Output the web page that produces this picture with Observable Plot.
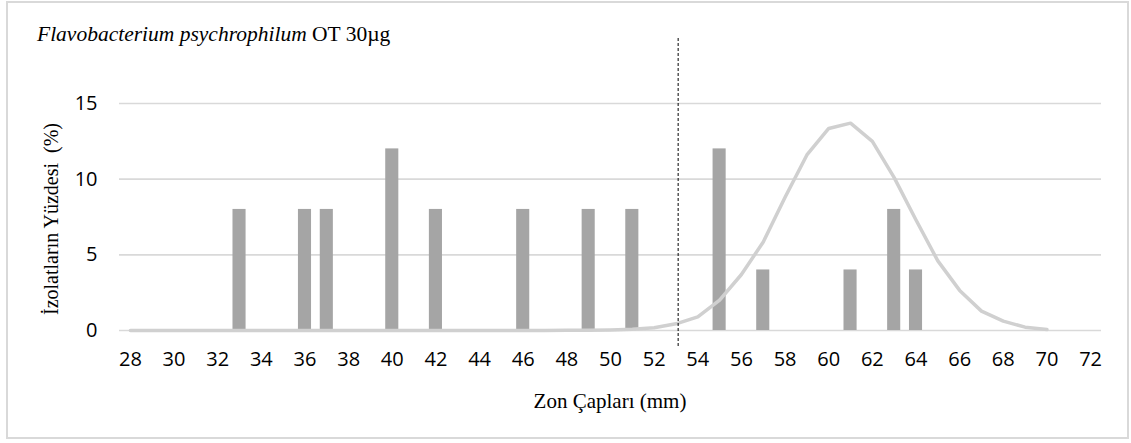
<!DOCTYPE html>
<html><head><meta charset="utf-8">
<script src="https://cdn.jsdelivr.net/npm/d3@7"></script>
<script src="https://cdn.jsdelivr.net/npm/@observablehq/plot@0.6"></script>
<style>
body{margin:0;background:#fff;}
#wrap{position:relative;width:1131px;height:443px;overflow:hidden;}
#border{position:absolute;left:6px;top:1px;width:1123px;height:438px;border:2px solid #d9d9d9;box-sizing:border-box;pointer-events:none;}
</style></head>
<body><div id="wrap"><div id="border"></div></div>
<script>
// Bars: zone diameters (mm) and percentage of isolates
const zones = [33, 36, 37, 40, 42, 46, 49, 51, 55, 57, 61, 63, 64];
const percents = [8, 8, 8, 12, 8, 8, 8, 8, 12, 4, 4, 8, 4];
// Fitted distribution curve
const curveX = [28,29,30,31,32,33,34,35,36,37,38,39,40,41,42,43,44,45,46,47,48,49,50,51,52,53,54,55,56,57,58,59,60,61,62,63,64,65,66,67,68,69,70];
const curveY = [0,0,0,0,0,0,0,0,0,0,0,0,0,0,0,0,0,0,0,0,0.01,0.02,0.04,0.08,0.18,0.44,0.9,2.0,3.7,5.85,8.8,11.6,13.35,13.7,12.5,10.1,7.3,4.6,2.65,1.28,0.62,0.22,0.06];
// Cutoff line
const cutoff = [53.1];
// Axis ticks
const xTicks = [28,30,32,34,36,38,40,42,44,46,48,50,52,54,56,58,60,62,64,66,68,70,72];
const yTicks = [0,5,10,15];
const titleItalic = "Flavobacterium psychrophilum";
const titleRest = " OT 30µg";
const xLabel = "Zon Çapları (mm)";
const yLabel = "İzolatların Yüzdesi  (%)";

const bars = zones.map((z, i) => ({zone: z, pct: percents[i]}));
const curve = curveX.map((x, i) => ({x, y: curveY[i]}));
const halfBar = 0.3;

const chart = Plot.plot({
  width: 1131, height: 443,
  marginLeft: 119, marginRight: 30, marginTop: 103, marginBottom: 113,
  x: {domain: [27.5, 72.5]},
  y: {domain: [0, 15]},
  style: {fontFamily: "'Open Sans', sans-serif", fontSize: "20px", color: "#000", background: "transparent", overflow: "visible"},
  marks: [
    Plot.gridY(yTicks, {stroke: "#d9d9d9", strokeOpacity: 1, strokeWidth: 1.6}),
    Plot.rectY(bars, {x1: d => d.zone - halfBar, x2: d => d.zone + halfBar, y: "pct", fill: "#a5a5a5"}),
    Plot.line(curve, {x: "x", y: "y", stroke: "#d0d0d0", strokeWidth: 3.5, strokeLinejoin: "round"}),
    Plot.ruleX(cutoff, {stroke: "#000", strokeWidth: 1, strokeDasharray: "3,2", insetTop: -65, insetBottom: -16}),
    Plot.axisX(xTicks, {tickSize: 0, tickPadding: 21, label: null, fill: "#000", fontSize: 20}),
    Plot.axisY(yTicks, {tickSize: 0, tickPadding: 22, label: null, fill: "#000", fontSize: 20})
  ]
});
document.getElementById("wrap").prepend(chart);

const svg = d3.select(chart);
const serif = "'Liberation Serif', 'Times New Roman', serif";
const t = svg.append("text").attr("x", 37).attr("y", 41).attr("text-anchor", "start")
  .attr("font-family", serif).attr("font-size", 21.5).attr("fill", "#000");
t.append("tspan").attr("font-style", "italic").text(titleItalic);
t.append("tspan").text(titleRest);
svg.append("text").attr("x", 610).attr("y", 408).attr("text-anchor", "middle")
  .attr("font-family", serif).attr("font-size", 21).attr("fill", "#000")
  .text(xLabel);
svg.append("text").attr("transform", "translate(58,219) rotate(-90)").attr("text-anchor", "middle")
  .attr("font-family", serif).attr("font-size", 20).attr("fill", "#000")
  .style("white-space", "pre").text(yLabel);
</script></body></html>
